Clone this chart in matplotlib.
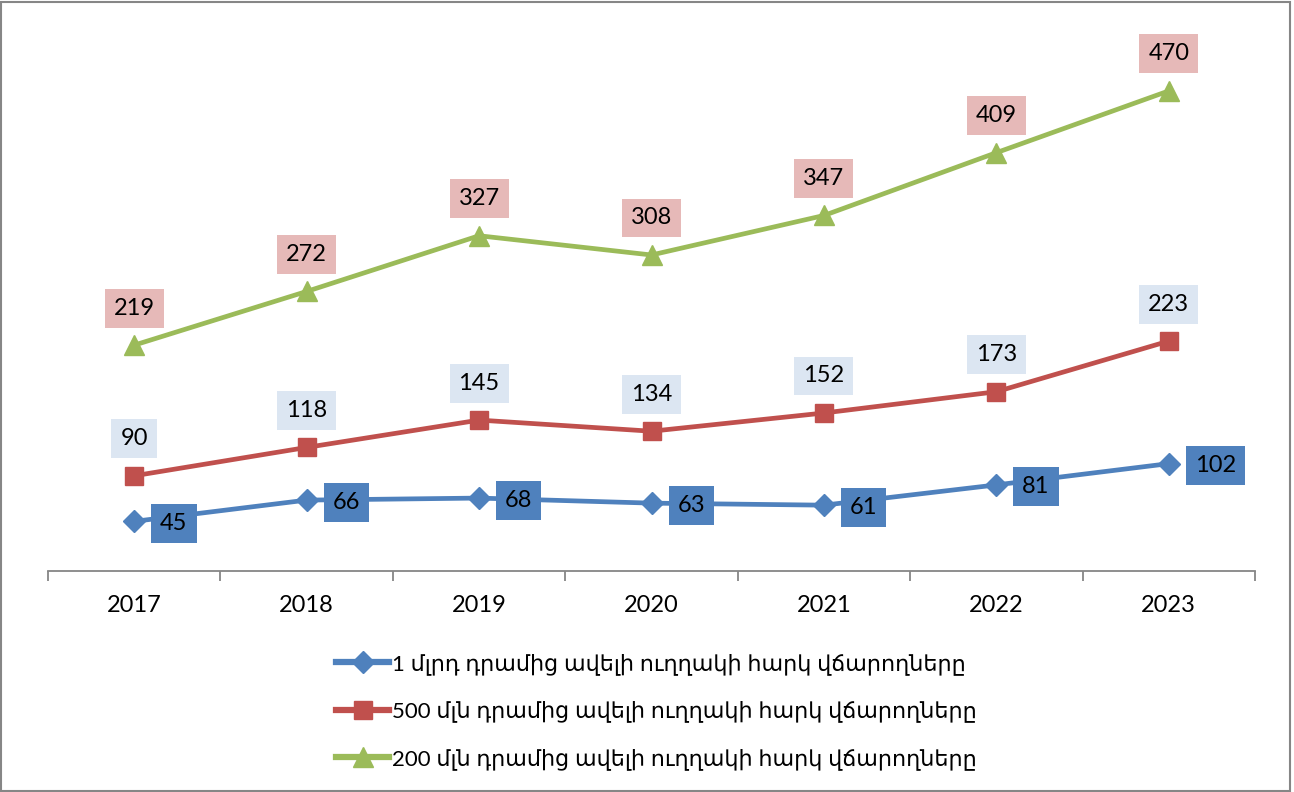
import matplotlib
matplotlib.use('Agg')
import matplotlib.pyplot as plt
import numpy as np
from matplotlib.patches import Rectangle

plt.rcParams['font.family'] = ['Lato', 'DejaVu Sans']

years = ['2017', '2018', '2019', '2020', '2021', '2022', '2023']
over_1bn = [45, 66, 68, 63, 61, 81, 102]
over_500m = [90, 118, 145, 134, 152, 173, 223]
over_200m = [219, 272, 327, 308, 347, 409, 470]
labels = ['1 մլրդ դրամից ավելի ուղղակի հարկ վճարողները',
          '500 մլն դրամից ավելի ուղղակի հարկ վճարողները',
          '200 մլն դրամից ավելի ուղղակի հարկ վճարողները']

fig = plt.figure(figsize=(12.94, 7.92), dpi=100)
ax = fig.add_axes([48/1294, 1-571/792, 1207/1294, 551/792])
x = np.arange(len(years))

ax.plot(x, over_1bn, color='#4F81BD', lw=3.4, marker='D', ms=11, label=labels[0])
ax.plot(x, over_500m, color='#C0504D', lw=3.4, marker='s', ms=13, label=labels[1])
ax.plot(x, over_200m, color='#9BBB59', lw=3.4, marker='^', ms=15, label=labels[2])

for i in x:
    ax.annotate(str(over_200m[i]), (i, over_200m[i]), xytext=(0, 37), textcoords='offset pixels',
                ha='center', va='center', fontsize=17,
                bbox=dict(boxstyle='square,pad=0.38', fc='#E6B9B8', ec='none'))
    ax.annotate(str(over_500m[i]), (i, over_500m[i]), xytext=(0, 37), textcoords='offset pixels',
                ha='center', va='center', fontsize=17,
                bbox=dict(boxstyle='square,pad=0.38', fc='#DCE6F2', ec='none'))
    ax.annotate(str(over_1bn[i]), (i, over_1bn[i]), xytext=(26, -2), textcoords='offset pixels',
                ha='left', va='center', fontsize=17,
                bbox=dict(boxstyle='square,pad=0.38', fc='#4F81BD', ec='none'))

ax.set_xlim(-0.5, len(years) - 0.5)
ax.set_ylim(-4, 540)
ax.set_xticks(x)
ax.set_xticklabels(years, fontsize=17)
ax.set_xticks(np.arange(-0.5, len(years)), minor=True)
ax.tick_params(axis='x', which='major', length=0, pad=17)
ax.tick_params(axis='x', which='minor', length=7, width=1.3, color='#868686', direction='out')
ax.set_yticks([])
for s in ['top', 'right', 'left']:
    ax.spines[s].set_visible(False)
ax.spines['bottom'].set_color('#868686')
ax.spines['bottom'].set_linewidth(1.3)

leg = fig.legend(loc='upper left', bbox_to_anchor=(316/1294, 1-633/792), frameon=False,
                 fontsize=16, handlelength=2.4, handletextpad=0.1, labelspacing=1.15)
for h in leg.get_lines():
    h.set_linewidth(4.5)

fig.patches.append(Rectangle((0.001, 0.001), 0.996, 0.997, transform=fig.transFigure,
                             fill=False, ec='#868686', lw=1.5))

fig.savefig('out.png', dpi=100)
